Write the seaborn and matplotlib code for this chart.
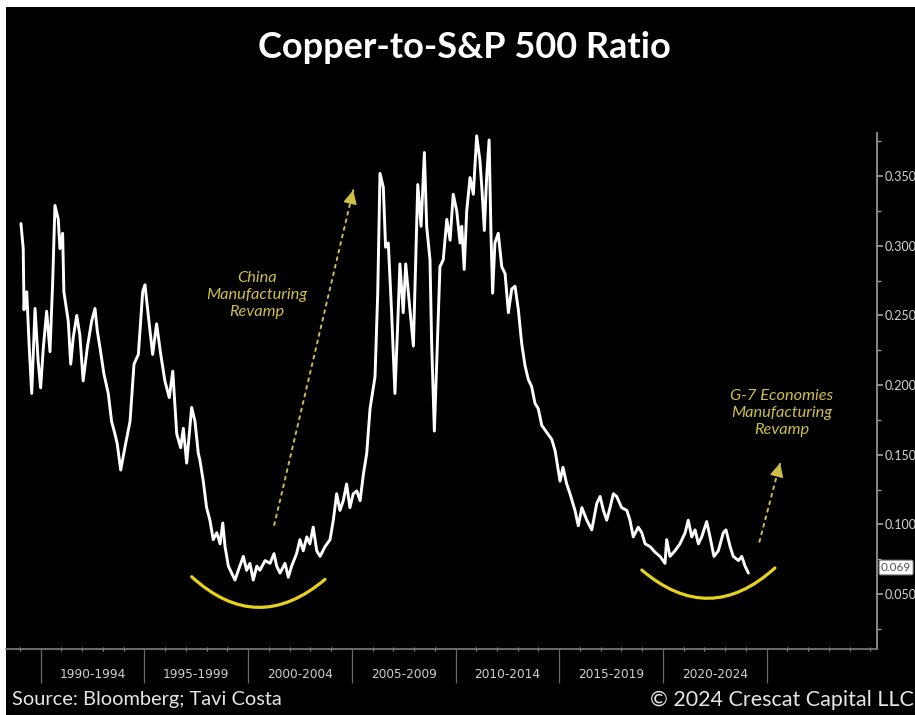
import pandas as pd
import matplotlib
matplotlib.use("Agg")
import matplotlib.pyplot as plt
import matplotlib.transforms as mtransforms
import seaborn as sns
from matplotlib.patches import Rectangle
from matplotlib.ticker import FixedLocator, MultipleLocator, FormatStrFormatter, NullFormatter

sns.set_theme(style="dark")
plt.rcParams['font.family'] = ['Lato', 'DejaVu Sans']

# ratio cobre / S&P 500
anios = [
    1989.05, 1989.16, 1989.20, 1989.24, 1989.33, 1989.45, 1989.57, 1989.73, 1989.88, 1990.00,
    1990.13, 1990.29, 1990.45, 1990.58, 1990.69, 1990.85, 1990.93, 1991.06, 1991.12, 1991.33,
    1991.45, 1991.57, 1991.74, 1991.89, 1992.05, 1992.25, 1992.46, 1992.62, 1992.73, 1992.86,
    1993.05, 1993.26, 1993.42, 1993.58, 1993.69, 1993.86, 1994.06, 1994.31, 1994.50, 1994.71,
    1994.92, 1995.03, 1995.19, 1995.40, 1995.59, 1995.79, 1995.99, 1996.20, 1996.37, 1996.56,
    1996.75, 1996.88, 1997.04, 1997.28, 1997.44, 1997.60, 1997.68, 1997.84, 1998.00, 1998.16,
    1998.32, 1998.49, 1998.65, 1998.78, 1998.89, 1999.05, 1999.21, 1999.37, 1999.53, 1999.77,
    1999.93, 2000.09, 2000.25, 2000.42, 2000.57, 2000.82, 2001.06, 2001.25, 2001.38, 2001.54,
    2001.78, 2001.94, 2002.10, 2002.34, 2002.50, 2002.66, 2002.83, 2002.98, 2003.14, 2003.31,
    2003.47, 2003.71, 2003.95, 2004.11, 2004.27, 2004.43, 2004.59, 2004.75, 2004.91, 2005.07,
    2005.24, 2005.40, 2005.56, 2005.72, 2005.88, 2006.12, 2006.25, 2006.36, 2006.52, 2006.63,
    2006.76, 2006.92, 2007.08, 2007.21, 2007.32, 2007.48, 2007.60, 2007.76, 2007.97, 2008.08,
    2008.18, 2008.34, 2008.50, 2008.61, 2008.77, 2008.85, 2008.98, 2009.09, 2009.25, 2009.41,
    2009.58, 2009.74, 2009.89, 2010.06, 2010.22, 2010.30, 2010.42, 2010.54, 2010.70, 2010.86,
    2011.02, 2011.18, 2011.29, 2011.39, 2011.50, 2011.62, 2011.71, 2011.79, 2011.90, 2012.06,
    2012.23, 2012.39, 2012.55, 2012.71, 2012.87, 2013.03, 2013.19, 2013.35, 2013.51, 2013.67,
    2013.83, 2013.99, 2014.16, 2014.40, 2014.64, 2014.80, 2015.04, 2015.18, 2015.36, 2015.52,
    2015.76, 2015.92, 2016.09, 2016.33, 2016.57, 2016.81, 2016.97, 2017.13, 2017.29, 2017.45,
    2017.61, 2017.77, 2018.01, 2018.26, 2018.41, 2018.57, 2018.81, 2018.98, 2019.14, 2019.38,
    2019.62, 2019.86, 2020.10, 2020.18, 2020.34, 2020.58, 2020.82, 2021.07, 2021.22, 2021.39,
    2021.55, 2021.71, 2021.87, 2022.11, 2022.27, 2022.46, 2022.67, 2022.91, 2023.04, 2023.24,
    2023.39, 2023.64, 2023.80, 2023.96, 2024.12,
]
ratio = [
    0.316, 0.298, 0.254, 0.265, 0.267, 0.227, 0.194, 0.255, 0.217, 0.198,
    0.227, 0.253, 0.224, 0.274, 0.329, 0.319, 0.298, 0.309, 0.267, 0.246,
    0.215, 0.234, 0.250, 0.236, 0.203, 0.227, 0.246, 0.255, 0.239, 0.227,
    0.208, 0.194, 0.174, 0.165, 0.158, 0.139, 0.155, 0.174, 0.215, 0.222,
    0.267, 0.272, 0.250, 0.222, 0.244, 0.222, 0.203, 0.191, 0.210, 0.165,
    0.155, 0.169, 0.144, 0.184, 0.174, 0.151, 0.146, 0.131, 0.112, 0.103,
    0.089, 0.094, 0.086, 0.101, 0.084, 0.070, 0.065, 0.060, 0.067, 0.077,
    0.067, 0.072, 0.060, 0.070, 0.067, 0.074, 0.072, 0.079, 0.070, 0.065,
    0.072, 0.062, 0.070, 0.079, 0.089, 0.081, 0.091, 0.086, 0.098, 0.081,
    0.077, 0.084, 0.089, 0.103, 0.122, 0.110, 0.117, 0.129, 0.112, 0.122,
    0.124, 0.117, 0.136, 0.151, 0.183, 0.206, 0.266, 0.352, 0.342, 0.299,
    0.302, 0.252, 0.194, 0.242, 0.287, 0.252, 0.287, 0.261, 0.228, 0.290,
    0.344, 0.314, 0.367, 0.314, 0.290, 0.230, 0.167, 0.214, 0.285, 0.290,
    0.319, 0.304, 0.337, 0.325, 0.302, 0.314, 0.283, 0.325, 0.349, 0.337,
    0.379, 0.361, 0.337, 0.311, 0.349, 0.376, 0.309, 0.266, 0.302, 0.309,
    0.285, 0.280, 0.252, 0.269, 0.271, 0.254, 0.230, 0.214, 0.204, 0.199,
    0.187, 0.183, 0.171, 0.166, 0.161, 0.153, 0.131, 0.141, 0.129, 0.122,
    0.110, 0.099, 0.112, 0.103, 0.096, 0.115, 0.120, 0.110, 0.103, 0.112,
    0.122, 0.120, 0.112, 0.110, 0.103, 0.091, 0.098, 0.094, 0.086, 0.084,
    0.080, 0.077, 0.072, 0.089, 0.077, 0.081, 0.086, 0.094, 0.103, 0.091,
    0.096, 0.086, 0.091, 0.102, 0.091, 0.077, 0.081, 0.094, 0.096, 0.084,
    0.077, 0.074, 0.077, 0.070, 0.065,
]

periodos = ['1990-1994', '1995-1999', '2000-2004', '2005-2009',
            '2010-2014', '2015-2019', '2020-2024']
inicio_periodos = [1990, 1995, 2000, 2005, 2010, 2015, 2020]
separadores = [1990, 1995, 2000, 2005, 2010, 2015, 2020, 2025]
ticks_y = [0.05, 0.10, 0.15, 0.20, 0.25, 0.30, 0.35]
ultimo_valor = 0.069

amarillo = '#E6D21E'
amarillo_texto = '#CDBF48'

fig = plt.figure(figsize=(9.15, 7.15), dpi=100, facecolor='white')
fig.patches.append(Rectangle((6 / 915, 0), 1, 708 / 715, transform=fig.transFigure,
                             facecolor='black', edgecolor='none', zorder=-10))
ax = fig.add_axes([6 / 915, 66 / 715, 871 / 915, 516 / 715])
ax.set_facecolor('black')

df = pd.DataFrame({'anio': anios, 'ratio': ratio})
sns.lineplot(data=df, x='anio', y='ratio', ax=ax, color='white', lw=2.1, clip_on=False)

ax.set_xlim(1988.33, 2030.32)
ax.set_ylim(0.0105, 0.381)
ax.set_xlabel('')
ax.set_ylabel('')
ax.grid(False)

for lado in ['left', 'top']:
    ax.spines[lado].set_visible(False)
ax.spines['right'].set_color('#9a9a9a')
ax.spines['bottom'].set_color('#7a7a7a')

# eje y a la derecha
ax.yaxis.tick_right()
ax.yaxis.set_major_locator(FixedLocator(ticks_y))
ax.yaxis.set_minor_locator(MultipleLocator(0.025))
ax.yaxis.set_major_formatter(FormatStrFormatter('%.3f'))
ax.tick_params(axis='y', which='both', direction='out', colors='#9a9a9a',
               labelcolor='#d6d6d6', labelsize=9, pad=1.2, right=True, left=False)
ax.tick_params(axis='y', which='major', length=4)
ax.tick_params(axis='y', which='minor', length=3)

# eje x: separadores por quinquenio y marcas anuales
ax.xaxis.set_major_locator(FixedLocator(separadores))
ax.xaxis.set_major_formatter(NullFormatter())
ax.xaxis.set_minor_locator(MultipleLocator(1))
ax.tick_params(axis='x', which='major', direction='out', length=24.5, width=0.9,
               color='#6a6a6a', bottom=True)
ax.tick_params(axis='x', which='minor', direction='inout', length=3, width=0.8,
               color='#8a8a8a', bottom=True)

trans = mtransforms.blended_transform_factory(ax.transData, ax.transAxes)
for p, s in zip(periodos, inicio_periodos):
    ax.text(s + 2.5, -0.0485, p, transform=trans, ha='center', va='center',
            color='#cfcfcf', fontsize=8.7, family='DejaVu Sans')

# ultimo valor
trans_y = mtransforms.blended_transform_factory(ax.transAxes, ax.transData)
ax.text(1.0 + 4 / 871, ultimo_valor, f'{ultimo_valor:.3f}', transform=trans_y,
        ha='left', va='center', fontsize=8.5, color='#555555', clip_on=False,
        bbox=dict(boxstyle='round,pad=0.15', fc='white', ec='#999999', lw=0.8))

# arcos amarillos bajo los minimos
arco = dict(arrowstyle='-', color=amarillo, lw=2.3, shrinkA=0, shrinkB=0,
            connectionstyle='arc3,rad=0.44')
ax.annotate('', xy=(2003.71, 0.0605), xytext=(1997.28, 0.0624), arrowprops=arco)
ax.annotate('', xy=(2025.40, 0.0687), xytext=(2018.98, 0.0672), arrowprops=arco)

# flechas punteadas: linea punteada + punta solida
flechas = [((2001.26, 0.0995), (2005.07, 0.340)),
           ((2024.65, 0.0875), (2025.65, 0.144))]
for (x0, y0), (x1, y1) in flechas:
    ax.annotate('', xy=(x1, y1), xytext=(x0, y0),
                arrowprops=dict(arrowstyle='-', color=amarillo_texto, lw=1.4,
                                linestyle=(0, (1.5, 2.5)), shrinkA=0, shrinkB=0))
    xa, ya = x1 - 0.03 * (x1 - x0), y1 - 0.03 * (y1 - y0)
    ax.annotate('', xy=(x1, y1), xytext=(xa, ya),
                arrowprops=dict(arrowstyle='-|>,head_length=0.7,head_width=0.35',
                                color=amarillo_texto, lw=1.0, shrinkA=0, shrinkB=0))

ax.text(2000.43, 0.2646, 'China\nManufacturing\nRevamp', ha='center', va='center',
        color=amarillo_texto, fontsize=11.8, style='italic', linespacing=1.3)
ax.text(2025.74, 0.180, 'G-7 Economies\nManufacturing\nRevamp', ha='center', va='center',
        color=amarillo_texto, fontsize=11.8, style='italic', linespacing=1.3)

fig.text(0.508, 1 - 48 / 715, 'Copper-to-S&P 500 Ratio', ha='center', va='center',
         color='white', fontsize=26, fontweight='bold')
fig.text(12 / 915, 1 - 700 / 715, 'Source: Bloomberg; Tavi Costa', ha='left', va='center',
         color='#e6e6e6', fontsize=14.4)
fig.text(0.999, 1 - 700 / 715, '\u00a9 2024 Crescat Capital LLC', ha='right', va='center',
         color='#e6e6e6', fontsize=15.5)

fig.savefig('out.png', dpi=100, facecolor=fig.get_facecolor())
